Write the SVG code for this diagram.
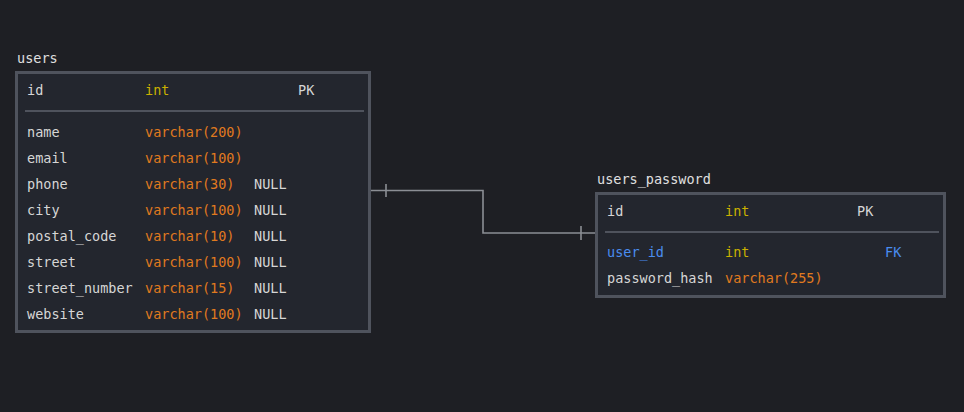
<svg xmlns="http://www.w3.org/2000/svg" width="964" height="412" viewBox="0 0 964 412">
<style>
text{font-family:"DejaVu Sans Mono","Liberation Mono",monospace;font-size:13.5px;fill:#d6d6d6}
.box{fill:#23262e;stroke:#4f535d;stroke-width:3}
.sep{stroke:#4f535d;stroke-width:2}
.t{fill:#e0e0e0}
.int{fill:#c9b000}
.vc{fill:#e07a1f}
.fk{fill:#4a8df0}
.conn{stroke:#8b8e94;stroke-width:1.6;fill:none}
</style>
<rect width="964" height="412" fill="#1e1f24"/>
<g id="users">
<text class="t" x="17" y="63">users</text>
<rect class="box" x="16.5" y="72.5" width="353" height="259"/>
<text x="27" y="95">id</text><text class="int" x="145" y="95">int</text><text x="298" y="95">PK</text>
<line class="sep" x1="25" y1="111" x2="364" y2="111"/>
<text x="27" y="137">name</text><text class="vc" x="145" y="137">varchar(200)</text>
<text x="27" y="163">email</text><text class="vc" x="145" y="163">varchar(100)</text>
<text x="27" y="189">phone</text><text class="vc" x="145" y="189">varchar(30)</text><text x="254" y="189">NULL</text>
<text x="27" y="215">city</text><text class="vc" x="145" y="215">varchar(100)</text><text x="254" y="215">NULL</text>
<text x="27" y="241">postal_code</text><text class="vc" x="145" y="241">varchar(10)</text><text x="254" y="241">NULL</text>
<text x="27" y="267">street</text><text class="vc" x="145" y="267">varchar(100)</text><text x="254" y="267">NULL</text>
<text x="27" y="293">street_number</text><text class="vc" x="145" y="293">varchar(15)</text><text x="254" y="293">NULL</text>
<text x="27" y="319">website</text><text class="vc" x="145" y="319">varchar(100)</text><text x="254" y="319">NULL</text>
</g>
<g id="users_password">
<text class="t" x="597" y="184">users_password</text>
<rect class="box" x="596.5" y="193.5" width="348" height="103"/>
<text x="607" y="216">id</text><text class="int" x="725" y="216">int</text><text x="857" y="216">PK</text>
<line class="sep" x1="605" y1="232" x2="939" y2="232"/>
<text class="fk" x="607" y="257">user_id</text><text class="int" x="725" y="257">int</text><text class="fk" x="885" y="257">FK</text>
<text x="607" y="283">password_hash</text><text class="vc" x="725" y="283">varchar(255)</text>
</g>
<g id="connectors">
<path class="conn" d="M371 190.5 H483 V233 H595"/>
<line class="conn" x1="386" y1="184" x2="386" y2="197"/>
<line class="conn" x1="581" y1="226" x2="581" y2="240"/>
</g>
</svg>
